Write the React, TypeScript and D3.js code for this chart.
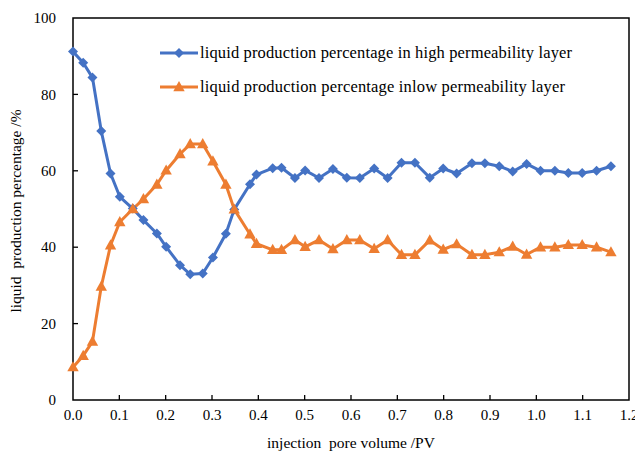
import { useMemo } from "react";
import * as d3 from "d3";

// injection pore volume (PV) at each measurement
const pvValues = [
  0.0, 0.022, 0.042, 0.061, 0.081, 0.101, 0.129, 0.152, 0.181, 0.201, 0.231,
  0.253, 0.28, 0.302, 0.33, 0.348, 0.382, 0.396, 0.431, 0.45, 0.479, 0.501,
  0.531, 0.561, 0.591, 0.619, 0.65, 0.679, 0.709, 0.738, 0.77, 0.799, 0.828,
  0.861, 0.889, 0.92, 0.949, 0.979, 1.009, 1.04, 1.069, 1.099, 1.13, 1.161,
];

const highLayer = [
  91.2, 88.3, 84.4, 70.4, 59.3, 53.2, 50.1, 47.1, 43.6, 40.1, 35.3, 32.9,
  33.1, 37.3, 43.5, 49.9, 56.5, 59.0, 60.7, 60.8, 58.1, 60.1, 58.1, 60.5,
  58.2, 58.1, 60.6, 58.1, 62.1, 62.1, 58.2, 60.6, 59.3, 62.0, 62.0, 61.2,
  59.8, 61.8, 60.0, 60.0, 59.4, 59.4, 60.0, 61.2,
];

const lowLayer = [
  8.6, 11.6, 15.3, 29.7, 40.5, 46.6, 50.0, 52.6, 56.4, 60.1, 64.4, 67.0,
  67.0, 62.5, 56.4, 49.9, 43.4, 40.9, 39.3, 39.3, 41.9, 40.1, 41.9, 39.5,
  41.9, 41.9, 39.6, 41.9, 38.0, 38.0, 41.8, 39.4, 40.8, 38.0, 38.0, 38.7,
  40.2, 38.1, 40.0, 40.0, 40.6, 40.6, 40.0, 38.7,
];

const xTicks = [0, 0.1, 0.2, 0.3, 0.4, 0.5, 0.6, 0.7, 0.8, 0.9, 1.0, 1.1, 1.2];
const yTicks = [0, 20, 40, 60, 80, 100];

const legendLabels = [
  "liquid production percentage in high permeability layer",
  "liquid production percentage inlow permeability layer",
];
const legendWidths = [372, 365];

const BLUE = "#4472C4";
const ORANGE = "#ED7D31";
const FONT = "Liberation Serif, DejaVu Serif, serif";

const W = 635;
const H = 453;
const margin = { top: 18, right: 6, bottom: 53, left: 73 };

function Diamond({ x, y, r, color }: { x: number; y: number; r: number; color: string }) {
  return (
    <path
      d={`M${x},${y - r}L${x + r},${y}L${x},${y + r}L${x - r},${y}Z`}
      fill={color}
    />
  );
}

function Triangle({ x, y, r, color }: { x: number; y: number; r: number; color: string }) {
  return (
    <path
      d={`M${x},${y - r}L${x + r * 0.95},${y + r * 0.7}L${x - r * 0.95},${y + r * 0.7}Z`}
      fill={color}
    />
  );
}

export default function App() {
  const innerW = W - margin.left - margin.right;
  const innerH = H - margin.top - margin.bottom;

  const x = useMemo(
    () => d3.scaleLinear().domain([0, 1.2]).range([margin.left, margin.left + innerW]),
    [innerW]
  );
  const y = useMemo(
    () => d3.scaleLinear().domain([0, 100]).range([margin.top + innerH, margin.top]),
    [innerH]
  );

  const line = d3
    .line<number>()
    .x((_, i) => x(pvValues[i]))
    .y((d) => y(d));

  const bottom = margin.top + innerH;
  const right = margin.left + innerW;
  const textStyle = { fontFamily: FONT, whiteSpace: "pre" as const };

  return (
    <svg
      width={W}
      height={H}
      style={{ position: "absolute", left: 0, top: 0, background: "#fff" }}
    >
      {/* frame */}
      <rect
        x={margin.left}
        y={margin.top}
        width={innerW}
        height={innerH}
        fill="none"
        stroke="#000"
        strokeWidth={1.5}
      />

      {/* y ticks */}
      {yTicks.map((t) => (
        <g key={`y${t}`}>
          {t > 0 && t < 100 && (
            <line x1={margin.left} x2={margin.left + 5} y1={y(t)} y2={y(t)} stroke="#000" strokeWidth={1.3} />
          )}
          <text x={margin.left - 17} y={y(t)} dy="0.35em" textAnchor="end" fontSize={15} fill="#000" style={textStyle}>
            {t}
          </text>
        </g>
      ))}

      {/* x ticks */}
      {xTicks.map((t) => (
        <g key={`x${t}`}>
          {t > 0 && t < 1.2 && (
            <line x1={x(t)} x2={x(t)} y1={bottom} y2={bottom - 5} stroke="#000" strokeWidth={1.3} />
          )}
          <text x={x(t)} y={bottom + 20} textAnchor="middle" fontSize={15} fill="#000" style={textStyle}>
            {t.toFixed(1)}
          </text>
        </g>
      ))}

      {/* axis titles */}
      <text x={(margin.left + right) / 2} y={H - 5} textAnchor="middle" fontSize={15.5} fill="#000" style={textStyle}>
        injection  pore volume /PV
      </text>
      <text
        transform={`translate(21,${(margin.top + bottom) / 2 + 2}) rotate(-90)`}
        textAnchor="middle"
        fontSize={15.5}
        fill="#000"
        style={textStyle}
      >
        liquid  production percentage /%
      </text>

      {/* series lines */}
      <path d={line(highLayer) ?? ""} fill="none" stroke={BLUE} strokeWidth={3} strokeLinejoin="round" />
      <path d={line(lowLayer) ?? ""} fill="none" stroke={ORANGE} strokeWidth={3} strokeLinejoin="round" />

      {highLayer.map((v, i) => (
        <Diamond key={`h${i}`} x={x(pvValues[i])} y={y(v)} r={5} color={BLUE} />
      ))}
      {lowLayer.map((v, i) => (
        <Triangle key={`l${i}`} x={x(pvValues[i])} y={y(v)} r={6} color={ORANGE} />
      ))}

      {/* legend */}
      {legendLabels.map((label, i) => {
        const ly = 53 + i * 34;
        const color = i === 0 ? BLUE : ORANGE;
        return (
          <g key={label}>
            <line x1={160} x2={198} y1={ly} y2={ly} stroke={color} strokeWidth={3} />
            {i === 0 ? (
              <Diamond x={179} y={ly} r={5} color={color} />
            ) : (
              <Triangle x={179} y={ly} r={6} color={color} />
            )}
            <text
              x={200}
              y={ly}
              dy="0.33em"
              fontSize={16.5}
              fill="#000"
              style={textStyle}
              textLength={legendWidths[i]}
              lengthAdjust="spacing"
            >
              {label}
            </text>
          </g>
        );
      })}
    </svg>
  );
}
